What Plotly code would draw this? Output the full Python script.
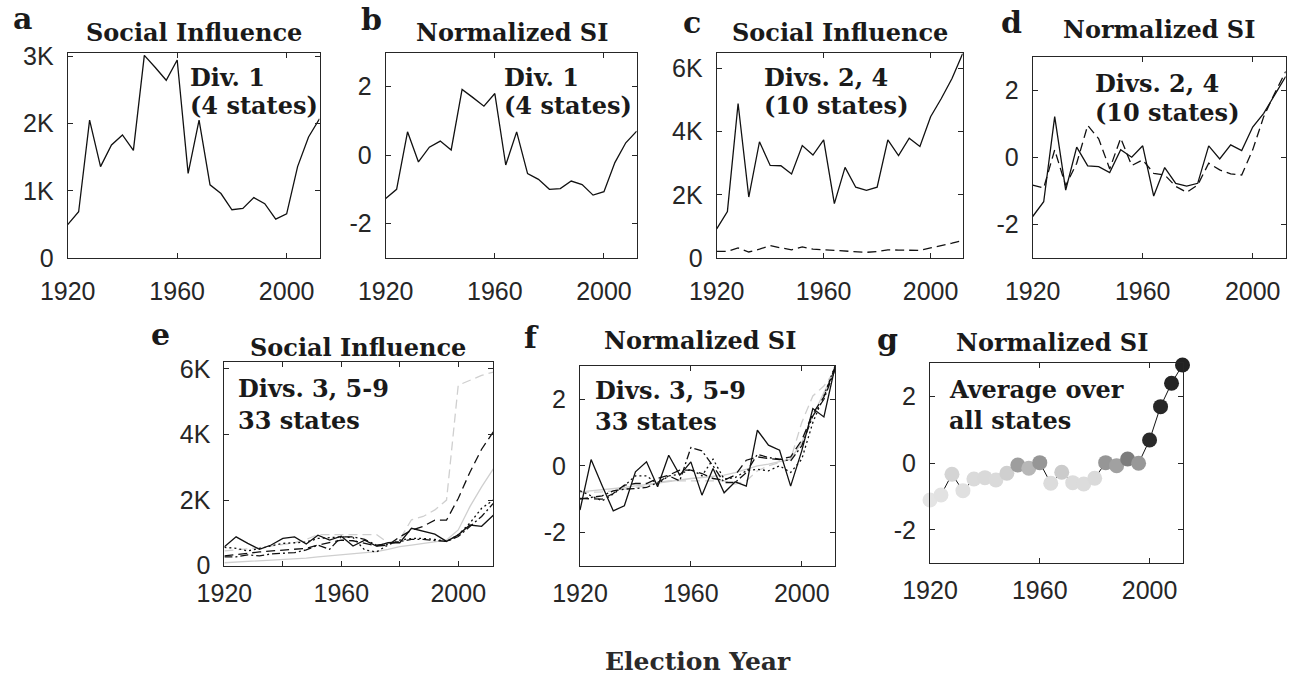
import plotly.graph_objects as go

W, H = 1293, 678

# ---------------- data ----------------
years = list(range(1920, 2013, 4))

a_social_influence = [500, 690, 2050, 1360, 1680, 1830, 1600, 3010, 2830, 2640, 2940, 1260,
                      2050, 1090, 960, 720, 740, 900, 810, 580, 660, 1360, 1800, 2070]
b_normalized = [-1.27, -1.0, 0.68, -0.2, 0.23, 0.41, 0.15, 1.92, 1.68, 1.43, 1.80, -0.29,
                0.68, -0.54, -0.71, -1.0, -0.98, -0.76, -0.86, -1.17, -1.07, -0.22, 0.36, 0.70]

c_div2 = [920, 1470, 4890, 1930, 3680, 2930, 2920, 2660, 3560, 3260, 3740, 1720,
          2870, 2240, 2140, 2240, 3740, 3240, 3790, 3530, 4470, 5050, 5680, 6470]
c_div4 = [210, 210, 320, 190, 280, 390, 320, 260, 350, 280, 260, 240,
          220, 200, 180, 200, 260, 250, 240, 240, 320, 390, 470, 560]

d_div2 = [-1.77, -1.33, 1.21, -0.98, 0.30, -0.26, -0.28, -0.46, 0.22, 0.0, 0.34, -1.16,
          -0.31, -0.78, -0.86, -0.78, 0.34, -0.05, 0.37, 0.20, 0.90, 1.31, 1.86, 2.41]
d_div4 = [-0.83, -0.92, 0.22, -0.85, -0.18, 0.95, 0.55, -0.35, 0.57, -0.25, -0.08, -0.48,
          -0.53, -0.87, -1.05, -0.83, -0.18, -0.38, -0.50, -0.53, 0.22, 1.21, 1.91, 2.56]

e_div3 = [580, 880, 680, 500, 630, 830, 880, 660, 930, 780, 900, 600,
          780, 600, 700, 700, 1140, 1040, 960, 740, 940, 1240, 1200, 1540]
e_div5 = [300, 330, 380, 420, 450, 480, 500, 530, 630, 700, 780, 760,
          680, 600, 630, 880, 1080, 1200, 1390, 1390, 2050, 2850, 3550, 4080]
e_div6 = [560, 530, 450, 530, 600, 680, 700, 720, 830, 850, 880, 860,
          480, 420, 630, 780, 830, 830, 800, 740, 940, 1300, 1750, 2000]
e_div7 = [270, 270, 330, 300, 360, 380, 400, 480, 630, 500, 880, 880,
          800, 630, 660, 740, 800, 800, 760, 740, 890, 1200, 1500, 1900]
e_div8 = [90, 110, 130, 140, 160, 180, 200, 230, 270, 300, 330, 360,
          400, 430, 500, 580, 630, 680, 730, 780, 1090, 1800, 2400, 2950]
e_div9 = [450, 480, 500, 550, 600, 650, 700, 800, 950, 950, 950, 950,
          950, 950, 700, 800, 1400, 1500, 1700, 2000, 5500, 5650, 5800, 5900]

f_div3 = [-1.33, 0.19, -0.6, -1.35, -1.2, -0.18, 0.12, -0.63, 0.32, -0.28, 0.12, -0.88,
          -0.08, -0.81, -0.48, -0.61, 1.07, 0.62, 0.47, -0.61, 0.45, 1.72, 1.47, 2.97]
f_div5 = [-0.98, -0.98, -1.0, -0.83, -0.58, -0.53, -0.53, -0.38, -0.28, -0.13, -0.13, -0.23,
          -0.38, -0.43, -0.28, 0.17, 0.27, 0.22, 0.19, 0.27, 0.77, 1.57, 2.07, 2.97]
f_div6 = [-0.75, -0.9, -1.05, -0.85, -0.6, -0.3, -0.3, -0.55, -0.3, -0.25, -0.1, -0.3,
          0.2, -0.4, -0.35, -0.15, -0.1, -0.15, 0.0, -0.2, 0.2, 1.3, 2.1, 3.0]
f_div7 = [-1.0, -0.95, -0.9, -0.75, -0.7, -0.68, -0.65, -0.5, -0.3, -0.45, 0.55, 0.45,
          0.0, -0.5, -0.5, -0.2, 0.35, 0.25, 0.2, 0.15, 0.6, 1.5, 2.0, 2.9]
f_div8 = [-0.78, -0.75, -0.72, -0.7, -0.65, -0.6, -0.57, -0.52, -0.47, -0.42, -0.38, -0.35,
          -0.32, -0.28, -0.2, -0.1, 0.0, 0.05, 0.12, 0.2, 0.7, 1.5, 2.2, 2.85]
f_div9 = [-0.8, -0.8, -0.78, -0.75, -0.7, -0.65, -0.6, -0.5, -0.45, -0.45, -0.45, -0.45,
          -0.45, -0.45, -0.55, -0.45, -0.15, 0.0, 0.1, 0.2, 1.3, 2.1, 2.4, 2.85]

g_average = [-1.1, -0.95, -0.33, -0.82, -0.47, -0.43, -0.5, -0.3, -0.05, -0.15, 0.02, -0.6,
             -0.27, -0.58, -0.62, -0.45, 0.02, -0.07, 0.13, 0.0, 0.7, 1.7, 2.4, 2.95]

year_ticks = [1920, 1960, 2000]
year_ticks_e = [1920, 1940, 1960, 1980, 2000]
year_labels_e = ["1920", "", "1960", "", "2000"]
si_ticks_a = [0, 1000, 2000, 3000]
si_labels_a = ["0", "1K", "2K", "3K"]
si_ticks_ce = [0, 2000, 4000, 6000]
si_labels_ce = ["0", "2K", "4K", "6K"]
nsi_ticks = [-2, 0, 2]
nsi_labels = ["-2", "0", "2"]

# ---------------- layout helpers ----------------
SERIF = "DejaVu Serif"
SANS = "Liberation Sans, Arial, sans-serif"
INK = "#1a1a1a"
AX = "#262626"


def fx(px):
    return px / W


def fy(py):
    return 1 - py / H


# panel frames in pixels: (left, right, top, bottom)
frames = {
    1: (67.7, 319.5, 53.3, 258.3),
    2: (385.7, 636.7, 52.5, 257.7),
    3: (716.7, 962.7, 53.3, 258.0),
    4: (1032.7, 1285.7, 56.7, 257.7),
    5: (224.4, 493.3, 362.3, 565.7),
    6: (580.0, 835.0, 366.0, 565.7),
    7: (930.0, 1182.5, 363.3, 563.3),
}

fig = go.Figure()

BLACK = "#111111"
LGRAY = "#cfcfcf"
DASH = "9px,5px"
DOT = "2px,3px"
DASHDOT = "8px,3px,2px,3px"


def add_line(idx, y, color=BLACK, dash="solid", width=1.3):
    fig.add_trace(go.Scatter(
        x=years, y=y, mode="lines",
        line=dict(color=color, width=width, dash=dash),
        xaxis="x" if idx == 1 else f"x{idx}",
        yaxis="y" if idx == 1 else f"y{idx}",
        showlegend=False, hoverinfo="skip"))


add_line(1, a_social_influence)
add_line(2, b_normalized)
add_line(3, c_div2)
add_line(3, c_div4, dash=DASH)
add_line(4, d_div2)
add_line(4, d_div4, dash=DASH)

add_line(5, e_div8, color=LGRAY)
add_line(5, e_div9, color=LGRAY, dash=DASH)
add_line(5, e_div3)
add_line(5, e_div5, dash=DASH)
add_line(5, e_div6, dash=DOT)
add_line(5, e_div7, dash=DASHDOT)

add_line(6, f_div8, color=LGRAY)
add_line(6, f_div9, color=LGRAY, dash=DASH)
add_line(6, f_div3)
add_line(6, f_div5, dash=DASH)
add_line(6, f_div6, dash=DOT)
add_line(6, f_div7, dash=DASHDOT)

fig.add_trace(go.Scatter(
    x=years, y=g_average, mode="lines+markers",
    line=dict(color=BLACK, width=1),
    marker=dict(size=15, color=g_average, cmin=-1.2, cmax=3.0,
                colorscale=[[0, "#e6e6e6"], [0.2, "#d8d8d8"], [0.245, "#bdbdbd"],
                            [0.27, "#a0a0a0"], [0.29, "#969696"], [0.32, "#7a7a7a"],
                            [0.45, "#2a2a2a"], [1, "#222222"]],
                line=dict(width=0)),
    cliponaxis=False,
    xaxis="x7", yaxis="y7", showlegend=False, hoverinfo="skip"))

yspecs = {
    1: ([0, 3040], si_ticks_a, si_labels_a),
    2: ([-3, 3], nsi_ticks, nsi_labels),
    3: ([0, 6480], si_ticks_ce, si_labels_ce),
    4: ([-3, 3], nsi_ticks, nsi_labels),
    5: ([0, 6200], si_ticks_ce, si_labels_ce),
    6: ([-3, 3], nsi_ticks, nsi_labels),
    7: ([-3, 3], nsi_ticks, nsi_labels),
}

layout = dict(
    width=W, height=H, autosize=False,
    margin=dict(l=0, r=0, t=0, b=0, pad=0, autoexpand=False),
    paper_bgcolor="white", plot_bgcolor="white",
    showlegend=False,
)

for i in range(1, 8):
    l, r, t, b = frames[i]
    common = dict(showline=True, linecolor=AX, linewidth=1, mirror="ticks",
                  ticks="inside", ticklen=5, tickcolor=AX, tickwidth=1,
                  showgrid=False, zeroline=False, fixedrange=True, automargin=False,
                  tickfont=dict(family=SANS, size=25, color=AX))
    xk = "xaxis" if i == 1 else f"xaxis{i}"
    yk = "yaxis" if i == 1 else f"yaxis{i}"
    xt = year_ticks_e if i == 5 else year_ticks
    xl = year_labels_e if i == 5 else [str(v) for v in year_ticks]
    layout[xk] = dict(common, domain=[fx(l), fx(r)], range=[1920, 2012],
                      anchor="y" if i == 1 else f"y{i}",
                      tickmode="array", tickvals=xt, ticktext=xl,
                      ticklabelstandoff=11 if i <= 4 else 5)
    yr, yt, yl = yspecs[i]
    layout[yk] = dict(common, domain=[fy(b), fy(t)], range=yr,
                      anchor="x" if i == 1 else f"x{i}",
                      tickmode="array", tickvals=yt, ticktext=yl,
                      ticklabelstandoff=8)

fig.update_layout(**layout)


def text(x, y, s, size=24, xanchor="center", color=INK):
    fig.add_annotation(x=fx(x), y=fy(y), xref="paper", yref="paper", text=s,
                       showarrow=False, xanchor=xanchor, yanchor="middle",
                       font=dict(family=SERIF, size=size, color=color, weight="bold"))


# panel letters
for letter, (x, y) in {"a": (22, 18), "b": (371, 20), "c": (692, 23), "d": (1011, 23),
                       "e": (160, 335), "f": (531, 337), "g": (887, 339)}.items():
    text(x, y, letter, size=30)

# titles
text(193.5, 33, "Social Influence")
text(511.5, 32, "Normalized SI")
text(839.7, 33, "Social Influence")
text(1159, 30, "Normalized SI")
text(358, 347, "Social Influence")
text(700, 340, "Normalized SI")
text(1052, 342, "Normalized SI")

# in-panel labels
text(188, 77, "Div. 1", xanchor="left")
text(188, 106, "(4 states)", xanchor="left")
text(502, 77, "Div. 1", xanchor="left")
text(502, 106, "(4 states)", xanchor="left")
text(762, 77, "Divs. 2, 4", xanchor="left")
text(762, 106, "(10 states)", xanchor="left")
text(1093, 84, "Divs. 2, 4", xanchor="left")
text(1093, 113, "(10 states)", xanchor="left")
text(236, 388, "Divs. 3, 5-9", xanchor="left")
text(236, 420, "33 states", xanchor="left")
text(593, 390, "Divs. 3, 5-9", xanchor="left")
text(593, 421, "33 states", xanchor="left")
text(947, 389, "Average over", xanchor="left")
text(947, 420, "all states", xanchor="left")

text(698, 661, "Election Year", size=25, color="#2a2a2a")

fig.write_html("out.html", config=dict(displayModeBar=False, staticPlot=True),
               post_script="document.body.style.margin='0';")
